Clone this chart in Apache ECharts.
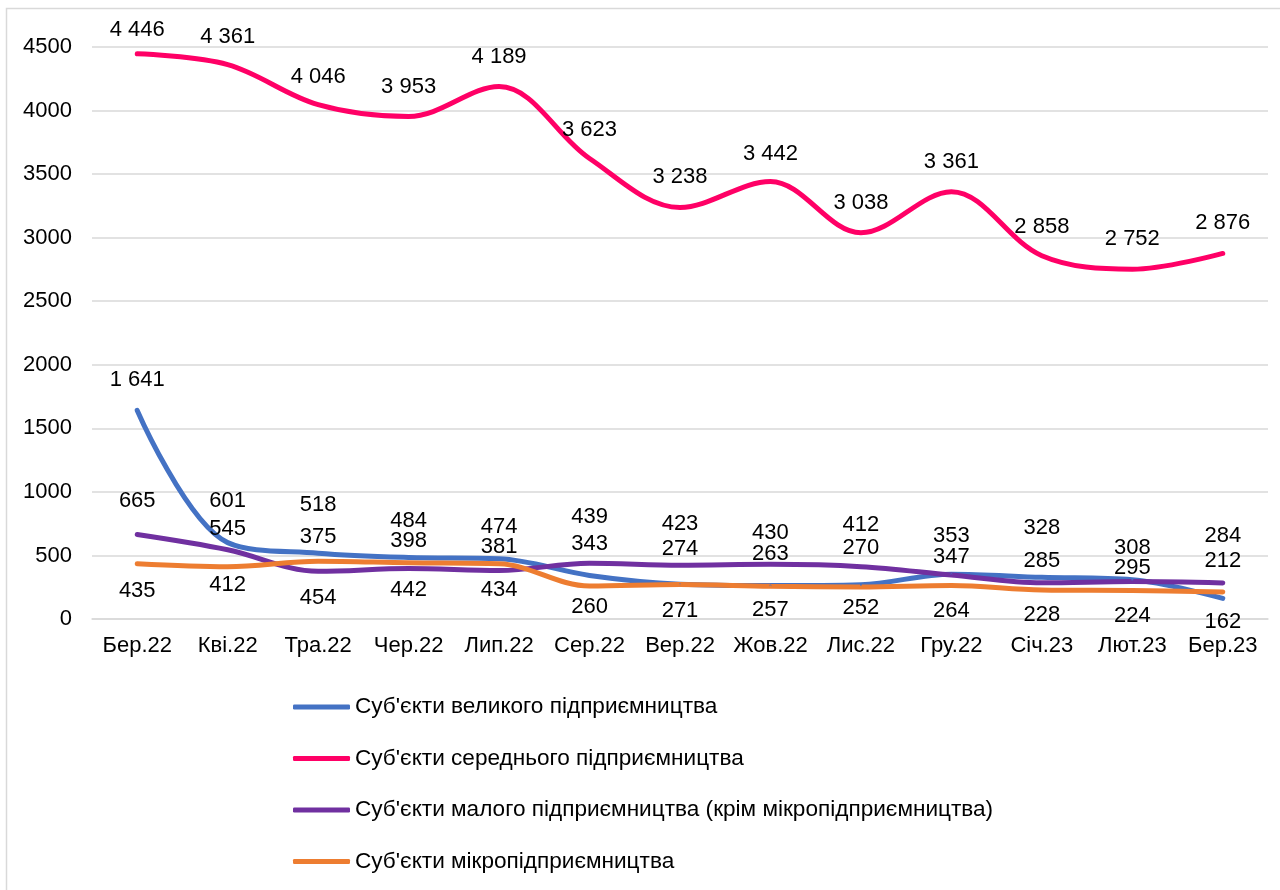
<!DOCTYPE html>
<html>
<head>
<meta charset="utf-8">
<script src="https://cdn.jsdelivr.net/npm/echarts@6/dist/echarts.min.js"></script>
<style>
html,body{margin:0;padding:0;background:#fff;}
#chart{width:1280px;height:890px;}
</style>
</head>
<body>
<div id="chart"></div>
<script>
// ---- data ----
var categories = ['Бер.22','Кві.22','Тра.22','Чер.22','Лип.22','Сер.22','Вер.22','Жов.22','Лис.22','Гру.22','Січ.23','Лют.23','Бер.23'];
var seriesNames = [
  "Суб'єкти великого підприємництва",
  "Суб'єкти середнього підприємництва",
  "Суб'єкти малого підприємництва (крім мікропідприємництва)",
  "Суб'єкти мікропідприємництва"
];
var largeValues  = [1641, 601, 518, 484, 474, 343, 274, 263, 270, 353, 328, 308, 162];
var mediumValues = [4446, 4361, 4046, 3953, 4189, 3623, 3238, 3442, 3038, 3361, 2858, 2752, 2876];
var smallValues  = [665, 545, 375, 398, 381, 439, 423, 430, 412, 347, 285, 295, 284];
var microValues  = [435, 412, 454, 442, 434, 260, 271, 257, 252, 264, 228, 224, 212];
var yTicks = [0, 500, 1000, 1500, 2000, 2500, 3000, 3500, 4000, 4500];

// ---- label vertical offsets (px, style only) ----
var largeDy  = [-30, -42, -48, -37, -32, -31, -35, -32, -37, -38, -49, -32, 24];
var mediumDy = [-24, -28, -28, -30, -30, -29, -30, -28, -30, -30, -29, -30, -30];
var smallDy  = [-34, -21, -34, -27, -24, -46, -41, -31, -42, -18, -22, -14, -47];
var microDy  = [27, 18, 37, 27, 26, 21, 26, 24, 21, 25, 25, 25, -31];

var colors = ['#4472C4', '#FF0066', '#7030A0', '#ED7D31'];
var FONT = '"Liberation Sans", Arial, sans-serif';
var FS = 22;

function fmt(v) {
  return String(v).replace(/\B(?=(\d{3})+(?!\d))/g, ' ');
}

function makeSeries(name, values, dys, color) {
  return {
    name: name,
    type: 'line',
    smooth: 0.35,
    symbol: 'circle',
    symbolSize: 2,
    showSymbol: true,
    itemStyle: { color: color },
    lineStyle: { color: color, width: 5, cap: 'round' },
    data: values.map(function (v, i) {
      return {
        value: v,
        label: {
          show: true,
          position: 'inside',
          offset: [0, dys[i]],
          formatter: function (p) { return fmt(p.value); },
          color: '#000',
          fontSize: FS,
          fontFamily: FONT
        }
      };
    }),
    z: 3
  };
}

var chart = echarts.init(document.getElementById('chart'), null, { renderer: 'canvas' });
chart.setOption({
  animation: false,
  backgroundColor: '#fff',
  color: colors,
  graphic: [{
    type: 'rect',
    shape: { x: 6.5, y: 8.5, width: 1400, height: 1000 },
    style: { fill: 'none', stroke: '#d9d9d9', lineWidth: 1.5 },
    silent: true,
    z: -10
  }],
  grid: { left: 92, right: 12, top: 47, bottom: 271, containLabel: false },
  xAxis: {
    type: 'category',
    data: categories,
    boundaryGap: true,
    axisLine: { show: true, lineStyle: { color: '#d9d9d9', width: 1.5 } },
    axisTick: { show: false },
    axisLabel: { color: '#000', fontSize: FS, fontFamily: FONT, margin: 16, interval: 0 }
  },
  yAxis: {
    type: 'value',
    min: yTicks[0],
    max: yTicks[yTicks.length - 1],
    interval: yTicks[1] - yTicks[0],
    axisLine: { show: false },
    axisTick: { show: false },
    splitLine: { lineStyle: { color: '#d9d9d9', width: 1.5 } },
    axisLabel: { color: '#000', fontSize: FS, fontFamily: FONT, margin: 20, formatter: function (v) { return String(v); } }
  },
  legend: {
    orient: 'vertical',
    left: 288,
    top: 690,
    itemWidth: 57,
    itemHeight: 5,
    itemGap: 27.5,
    icon: 'roundRect',
    textStyle: { color: '#000', fontSize: 22.6, fontFamily: FONT, lineHeight: 24 },
    data: seriesNames
  },
  series: [
    makeSeries(seriesNames[0], largeValues, largeDy, colors[0]),
    makeSeries(seriesNames[1], mediumValues, mediumDy, colors[1]),
    makeSeries(seriesNames[2], smallValues, smallDy, colors[2]),
    makeSeries(seriesNames[3], microValues, microDy, colors[3])
  ]
});
</script>
</body>
</html>
